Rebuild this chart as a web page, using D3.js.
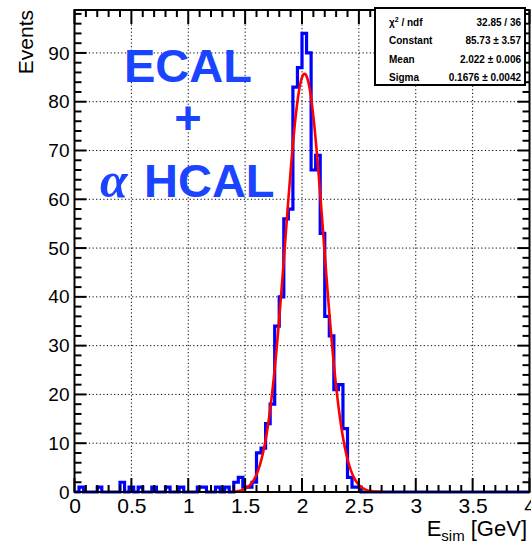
<!DOCTYPE html>
<html>
<head>
<meta charset="utf-8">
<script src="https://cdn.jsdelivr.net/npm/d3@7"></script>
<style>
  html, body { margin: 0; padding: 0; background: #fff; }
  svg { display: block; }
  text { font-family: "Liberation Sans", Arial, Helvetica, sans-serif; }
</style>
</head>
<body>
<div id="chart"></div>
<script>
// ---------------- data ----------------
const binLow = 0, binHigh = 4, nBins = 100;           // 0.04 GeV bins
const counts = [
  0,1,0,0,0,1,0,0,0,0,
  2,0,1,0,1,0,0,1,0,0,
  1,0,0,1,0,0,0,1,1,0,
  0,1,0,1,0,2,3,1,1,2,
  8,9,14,18,34,40,56,58,83,87,
  94,90,66,69,53,36,32,21,22,13,
  3,1,1,0,0,0,0,0,0,0,
  0,0,0,0,0,0,0,0,0,0,
  0,0,0,0,0,0,0,0,0,0,
  0,0,0,0,0,0,0,0,0,0
];
const fitParams = [85.73, 2.022, 0.1676];   // Constant, Mean, Sigma
const fitRange = [1.4, 2.7];
const xTickValues = [0, 0.5, 1, 1.5, 2, 2.5, 3, 3.5, 4];
const yTickValues = [0, 10, 20, 30, 40, 50, 60, 70, 80, 90];
const statsLabels = ["χ2 / ndf", "Constant", "Mean", "Sigma"];
const statsValues = ["32.85 / 36", "85.73 ± 3.57", "2.022 ± 0.006", "0.1676 ± 0.0042"];
const xTitle = ["E", "sim", " [GeV]"];
const yTitle = "Events";

// ---------------- layout ----------------
const W = 531, H = 547;
const L = 74.5, R = 529.5, T = 10, B = 492;
const x = d3.scaleLinear().domain([binLow, binHigh]).range([L, R]);
const y = d3.scaleLinear().domain([0, 98.8]).range([B, T]);
const binW = (binHigh - binLow) / nBins;

const svg = d3.select("#chart").append("svg").attr("width", W).attr("height", H);

// grid (dotted)
const grid = svg.append("g").attr("stroke", "#000").attr("stroke-width", 1)
  .attr("stroke-dasharray", "1.2,2.4").attr("fill", "none");
xTickValues.filter(v => v > binLow && v < binHigh).forEach(v => {
  grid.append("line").attr("x1", x(v)).attr("x2", x(v)).attr("y1", T).attr("y2", B);
});
yTickValues.filter(v => v > 0).forEach(v => {
  grid.append("line").attr("x1", L).attr("x2", R).attr("y1", y(v)).attr("y2", y(v));
});

// histogram outline
const pts = [[binLow, 0]];
counts.forEach((c, i) => {
  const a = binLow + i * binW, b = a + binW;
  pts.push([a, c], [b, c]);
});
pts.push([binHigh, 0]);
const line = d3.line().x(d => x(d[0])).y(d => y(d[1]));
svg.append("path").attr("d", line(pts)).attr("fill", "none")
  .attr("stroke", "#0000ff").attr("stroke-width", 3.2).attr("stroke-linejoin", "miter");

// gaussian fit
const [C0, mu, sig] = fitParams;
const fitPts = d3.range(0, 201).map(i => {
  const xv = fitRange[0] + i * (fitRange[1] - fitRange[0]) / 200;
  return [xv, C0 * Math.exp(-0.5 * Math.pow((xv - mu) / sig, 2))];
});
svg.append("path").attr("d", line(fitPts)).attr("fill", "none")
  .attr("stroke", "#ff0000").attr("stroke-width", 2.6);

// frame
svg.append("rect").attr("x", L).attr("y", T).attr("width", R - L).attr("height", B - T)
  .attr("fill", "none").attr("stroke", "#000").attr("stroke-width", 2);

// ticks
const ticks = svg.append("g").attr("stroke", "#000").attr("stroke-width", 2);
const xMinor = d3.range(0, 41).map(i => i / 10);
xMinor.forEach(v => {
  const major = xTickValues.some(t => Math.abs(t - v) < 1e-9);
  const len = major ? 14 : 7;
  ticks.append("line").attr("x1", x(v)).attr("x2", x(v)).attr("y1", B).attr("y2", B - len);
  ticks.append("line").attr("x1", x(v)).attr("x2", x(v)).attr("y1", T).attr("y2", T + len);
});
const yMinor = d3.range(0, 50).map(i => i * 2);
yMinor.forEach(v => {
  const major = yTickValues.includes(v);
  const len = major ? 12 : 7;
  ticks.append("line").attr("y1", y(v)).attr("y2", y(v)).attr("x1", L).attr("x2", L + len);
  ticks.append("line").attr("y1", y(v)).attr("y2", y(v)).attr("x1", R).attr("x2", R - len);
});

// axis labels via d3 axes
const xAxis = d3.axisBottom(x).tickValues(xTickValues).tickSize(0).tickPadding(6)
  .tickFormat(d3.format("~g"));
const gx = svg.append("g").attr("transform", `translate(0,${B})`).call(xAxis);
gx.select(".domain").remove();
gx.selectAll("text").attr("font-size", 21).attr("fill", "#000")
  .style("font-family", "'Liberation Sans', Arial, sans-serif");

const yAxis = d3.axisLeft(y).tickValues(yTickValues).tickSize(0).tickPadding(5);
const gy = svg.append("g").attr("transform", `translate(${L},0)`).call(yAxis);
gy.select(".domain").remove();
gy.selectAll("text").attr("font-size", 19).attr("fill", "#000")
  .style("font-family", "'Liberation Sans', Arial, sans-serif");

// axis titles
const xt = svg.append("text").attr("x", 527).attr("y", 536).attr("text-anchor", "end")
  .attr("font-size", 22).attr("fill", "#000");
xt.append("tspan").text(xTitle[0]);
xt.append("tspan").attr("font-size", 15).attr("dy", 5).text(xTitle[1]);
xt.append("tspan").attr("dy", -5).text(xTitle[2]);

svg.append("text").attr("transform", `translate(33,10) rotate(-90)`)
  .attr("text-anchor", "end").attr("font-size", 21).attr("fill", "#000").text(yTitle);

// stats box
const sx0 = 375, sx1 = 525, sy0 = 8, sy1 = 85;
svg.append("rect").attr("x", sx0).attr("y", sy0).attr("width", sx1 - sx0).attr("height", sy1 - sy0)
  .attr("fill", "#fff").attr("stroke", "#000").attr("stroke-width", 2);
const rowY = [22, 40.5, 59, 77.5];
statsLabels.forEach((lab, i) => {
  const t = svg.append("text").attr("x", sx0 + 14).attr("y", rowY[i] + 3.5)
    .attr("font-size", 10).attr("font-weight", "bold").attr("fill", "#000");
  if (i === 0) {
    t.append("tspan").text("χ");
    t.append("tspan").attr("font-size", 7).attr("dy", -4).text("2");
    t.append("tspan").attr("dy", 4).text(" / ndf");
  } else {
    t.text(lab);
  }
  svg.append("text").attr("x", sx1 - 4).attr("y", rowY[i] + 3.5).attr("text-anchor", "end")
    .attr("font-size", 10).attr("font-weight", "bold").attr("fill", "#000").text(statsValues[i]);
});

// annotation text
const blue = "#1a44ff";
svg.append("text").attr("x", 124).attr("y", 82).attr("font-size", 47).attr("font-weight", "bold")
  .attr("fill", blue).text("ECAL");
svg.append("text").attr("x", 188).attr("y", 134).attr("text-anchor", "middle")
  .attr("font-size", 47).attr("font-weight", "bold").attr("fill", blue).text("+");
svg.append("text").attr("x", 100).attr("y", 197).attr("font-size", 50).attr("font-weight", "bold")
  .attr("font-style", "italic").style("font-family", "'Liberation Serif', 'DejaVu Serif', serif")
  .attr("fill", blue).text("α");
svg.append("text").attr("x", 144).attr("y", 197).attr("font-size", 47).attr("font-weight", "bold")
  .attr("fill", blue).text("HCAL");
</script>
</body>
</html>
